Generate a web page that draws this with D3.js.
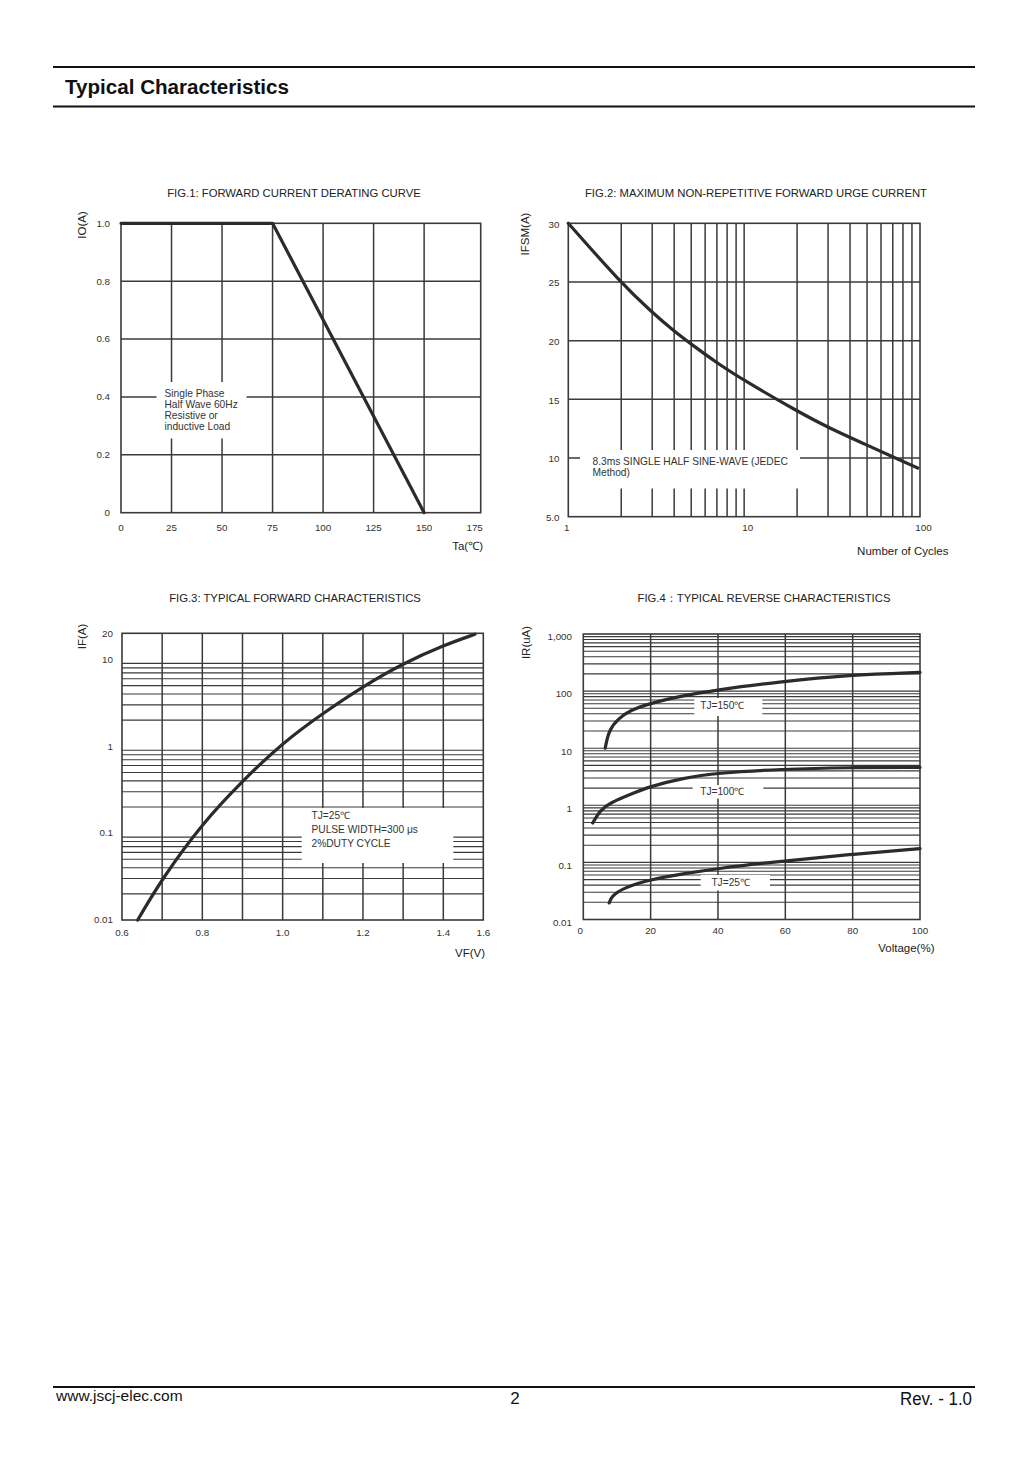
<!DOCTYPE html>
<html>
<head>
<meta charset="utf-8">
<script src="https://cdn.jsdelivr.net/npm/d3@7"></script>
<style>
  body { margin: 0; background: #fff; }
  svg text { font-family: "Liberation Sans", Arial, sans-serif; fill: #333; }
</style>
</head>
<body>
<svg width="1030" height="1458"></svg>
<script>
// FIG.1 forward current derating
let fig1Temp = [0, 75, 150],
    fig1Current = [1.0, 1.0, 0],
    fig1XTicks = [0, 25, 50, 75, 100, 125, 150, 175],
    fig1YTicks = [0, 0.2, 0.4, 0.6, 0.8, 1.0],
    fig1YLabels = ["0", "0.2", "0.4", "0.6", "0.8", "1.0"];

// FIG.2 surge current vs cycles
let fig2Cycles = [1, 2, 3, 4, 5, 7, 10, 20, 30, 50, 70, 97],
    fig2Ifsm = [30, 24.9, 22.4, 20.8, 19.7, 18.1, 16.6, 14.0, 12.6, 11.1, 10.1, 9.15],
    fig2XTicks = [1, 10, 100],
    fig2YTicks = [5, 10, 15, 20, 25, 30],
    fig2YLabels = ["5.0", "10", "15", "20", "25", "30"];

// FIG.3 forward characteristics
let fig3Vf = [0.639, 0.7, 0.8, 0.9, 1.0, 1.1, 1.2, 1.3, 1.4, 1.558],
    fig3If = [0.01, 0.03, 0.13, 0.40, 1.1, 2.4, 4.9, 9.0, 14.5, 19.5],
    fig3XTicks = [0.6, 0.8, 1.0, 1.2, 1.4, 1.6],
    fig3XLabels = ["0.6", "0.8", "1.0", "1.2", "1.4", "1.6"],
    fig3YTicks = [0.01, 0.1, 1, 10, 20],
    fig3YLabels = ["0.01", "0.1", "1", "10", "20"];

// FIG.4 reverse characteristics
let fig4Volt150 = [6.5, 7.6, 10.4, 13.9, 19.8, 28.7, 39.4, 58.9, 78.7, 100],
    fig4Ir150 = [10, 21, 33, 46, 61, 81, 105, 147, 192, 213],
    fig4Volt100 = [2.8, 5.0, 7.9, 13.9, 19.8, 29.7, 39.4, 58.9, 78.7, 100],
    fig4Ir100 = [0.49, 0.82, 1.1, 1.55, 2.14, 3.0, 3.66, 4.3, 4.6, 4.6],
    fig4Volt25 = [7.7, 8.4, 11.9, 19.8, 29.7, 39.4, 58.9, 78.7, 100],
    fig4Ir25 = [0.0195, 0.0256, 0.0358, 0.05, 0.063, 0.078, 0.105, 0.137, 0.174],
    fig4XTicks = [0, 20, 40, 60, 80, 100],
    fig4YTicks = [0.01, 0.1, 1, 10, 100, 1000],
    fig4YLabels = ["0.01", "0.1", "1", "10", "100", "1,000"];

let svg = d3.select("svg");
let gridColor = "#3a3a3a",
    curveColor = "#2b2b2b";

// page header / footer
svg.append("line").attr("x1", 53).attr("x2", 975).attr("y1", 67).attr("y2", 67)
    .attr("stroke", "#111").attr("stroke-width", 2);
svg.append("line").attr("x1", 53).attr("x2", 975).attr("y1", 106.5).attr("y2", 106.5)
    .attr("stroke", "#111").attr("stroke-width", 2);
svg.append("text").attr("x", 65).attr("y", 93.5)
    .attr("font-size", 20).attr("font-weight", "bold").style("fill", "#111")
    .attr("textLength", 224).attr("lengthAdjust", "spacingAndGlyphs")
    .text("Typical Characteristics");

svg.append("line").attr("x1", 53).attr("x2", 975).attr("y1", 1387).attr("y2", 1387)
    .attr("stroke", "#111").attr("stroke-width", 2);
svg.append("text").attr("x", 56).attr("y", 1401).attr("font-size", 15.5).style("fill", "#111")
    .text("www.jscj-elec.com");
svg.append("text").attr("x", 515).attr("y", 1404).attr("font-size", 17).style("fill", "#111")
    .attr("text-anchor", "middle").text("2");
svg.append("text").attr("x", 972).attr("y", 1405).attr("font-size", 18).style("fill", "#111")
    .attr("text-anchor", "end").attr("textLength", 72).attr("lengthAdjust", "spacingAndGlyphs")
    .text("Rev. - 1.0");

// helpers
function vLines(g, x, y, vals, w) {
  g.selectAll(null).data(vals).enter().append("line")
      .attr("x1", x).attr("x2", x)
      .attr("y1", y.range()[0]).attr("y2", y.range()[y.range().length - 1])
      .attr("stroke", gridColor).attr("stroke-width", w);
}

function hLines(g, x, y, vals, w) {
  g.selectAll(null).data(vals).enter().append("line")
      .attr("y1", y).attr("y2", y)
      .attr("x1", x.range()[0]).attr("x2", x.range()[x.range().length - 1])
      .attr("stroke", gridColor).attr("stroke-width", w);
}

function border(g, x, y) {
  let xr = x.range(), yr = y.range();
  g.append("rect")
      .attr("x", xr[0]).attr("y", yr[yr.length - 1])
      .attr("width", xr[xr.length - 1] - xr[0]).attr("height", yr[0] - yr[yr.length - 1])
      .attr("fill", "none").attr("stroke", gridColor).attr("stroke-width", 1.6);
}

function note(g, x0, y0, x1, y1, lines, tx, ty, dy, anchor) {
  g.append("rect").attr("x", x0).attr("y", y0)
      .attr("width", x1 - x0).attr("height", y1 - y0).attr("fill", "#fff");
  g.selectAll(null).data(lines).enter().append("text")
      .attr("x", tx).attr("y", function(d, i) { return ty + i * dy; })
      .attr("font-size", 10.2).attr("text-anchor", anchor || "start")
      .text(function(d) { return d; });
}

function curve(g, x, y, xs, ys, kind) {
  let line = d3.line()
      .curve(kind || d3.curveBasis)
      .x(function(d) { return x(d[0]); })
      .y(function(d) { return y(d[1]); });
  g.append("path")
      .attr("d", line(d3.zip(xs, ys)))
      .attr("fill", "none").attr("stroke", curveColor)
      .attr("stroke-width", 3.2).attr("stroke-linecap", "round").attr("stroke-linejoin", "round");
}

function title(text, cx, cy) {
  svg.append("text").attr("x", cx).attr("y", cy).attr("font-size", 11.3)
      .attr("text-anchor", "middle").style("fill", "#222").text(text);
}

function xLabels(g, x, ticks, labels, ty) {
  g.selectAll(null).data(ticks).enter().append("text")
      .attr("x", x).attr("y", ty).attr("font-size", 9.8).attr("text-anchor", "middle")
      .text(function(d, i) { return labels ? labels[i] : d; });
}

function yLabels(g, y, ticks, labels, tx, dy) {
  g.selectAll(null).data(ticks).enter().append("text")
      .attr("x", tx).attr("y", function(d) { return y(d) + (dy || 0); })
      .attr("dy", "0.34em").attr("font-size", 9.8).attr("text-anchor", "end")
      .text(function(d, i) { return labels[i]; });
}

function axisTitles(g, xt, xx, xy, yt, yx, yy) {
  g.append("text").attr("x", xx).attr("y", xy).attr("font-size", 11.5)
      .attr("text-anchor", "end").style("fill", "#222").text(xt);
  g.append("text").attr("transform", "translate(" + yx + "," + yy + ") rotate(-90)")
      .attr("dy", "0.35em").attr("font-size", 11.5).attr("text-anchor", "middle")
      .style("fill", "#222").text(yt);
}

// ---- FIG.1 ----
let g1 = svg.append("g");
let x1 = d3.scaleLinear().domain([0, 178]).range([121, 480.7]),
    y1 = d3.scaleLinear().domain([0, 1.0]).range([512.7, 223.3]);
title("FIG.1: FORWARD CURRENT  DERATING CURVE", 294, 197);
vLines(g1, x1, y1, [25, 50, 75, 100, 125, 150], 1.5);
hLines(g1, x1, y1, [0.2, 0.4, 0.6, 0.8], 1.5);
note(g1, 156.5, 382, 246.5, 438.5,
    ["Single Phase", "Half Wave 60Hz", "Resistive or", "inductive Load"], 164.5, 397, 11);
border(g1, x1, y1);
curve(g1, x1, y1, fig1Temp, fig1Current, d3.curveLinear);
xLabels(g1, x1, fig1XTicks, null, 531);
yLabels(g1, y1, fig1YTicks, fig1YLabels, 110);
axisTitles(g1, "Ta(\u2103)", 483, 550, "IO(A)", 81.5, 225);

// ---- FIG.2 ----
let g2 = svg.append("g");
let x2 = d3.scaleLog().domain([1, 100]).range([568.3, 920]),
    y2 = d3.scaleLinear().domain([5, 30]).range([516.7, 223.3]);
title("FIG.2: MAXIMUM NON-REPETITIVE FORWARD URGE CURRENT", 756, 197);
vLines(g2, x2, y2, d3.range(2, 10).concat(d3.range(10, 100, 10)), 1.5);
hLines(g2, x2, y2, [10, 15, 20, 25], 1.5);
note(g2, 580, 450, 800, 488.5,
    ["8.3ms SINGLE HALF SINE-WAVE (JEDEC", "Method)"], 592.5, 464.5, 11.5);
border(g2, x2, y2);
curve(g2, x2, y2, fig2Cycles, fig2Ifsm);
xLabels(g2, function(d) { return x2(d) + (d === 1 ? -1.5 : 3.5); }, fig2XTicks, null, 531);
yLabels(g2, y2, fig2YTicks, fig2YLabels, 559.5, 1);
axisTitles(g2, "Number of Cycles", 948.5, 555, "IFSM(A)", 525, 234);

// ---- FIG.3 ----
let g3 = svg.append("g");
let x3 = d3.scaleLinear().domain([0.6, 1.4, 1.6]).range([122, 443.3, 483.3]),
    y3 = d3.scaleLog().domain([0.01, 20]).range([920, 633.3]);
title("FIG.3: TYPICAL FORWARD CHARACTERISTICS", 295, 601.5);
vLines(g3, x3, y3, [0.7, 0.8, 0.9, 1.0, 1.1, 1.2, 1.3, 1.4], 1.5);
hLines(g3, x3, y3, [0.01, 0.1, 1].reduce(function(a, d) {
  return a.concat(d3.range(2, 10).map(function(k) { return k * d; }));
}, []), 1.1);
note(g3, 301.7, 808, 453.3, 863,
    ["TJ=25\u2103", "PULSE WIDTH=300 \u03bcs", "2%DUTY CYCLE"], 311.5, 819, 14.2);
border(g3, x3, y3);
curve(g3, x3, y3, fig3Vf, fig3If);
xLabels(g3, x3, fig3XTicks, fig3XLabels, 936);
yLabels(g3, y3, fig3YTicks, fig3YLabels, 113);
axisTitles(g3, "VF(V)", 485, 956.5, "IF(A)", 81.5, 636.5);

// ---- FIG.4 ----
let g4 = svg.append("g");
let x4 = d3.scaleLinear().domain([0, 100]).range([583.3, 920]),
    y4 = d3.scaleLog().domain([0.01, 1000]).range([919.5, 634]);
title("FIG.4\uff1aTYPICAL REVERSE CHARACTERISTICS", 764, 601.5);
vLines(g4, x4, y4, [20, 40, 60, 80], 1.5);
hLines(g4, x4, y4, [0.01, 0.1, 1, 10, 100].reduce(function(a, d) {
  return a.concat(d3.range(1, 10).map(function(k) { return k * d; }));
}, []).slice(1), 1.1);
note(g4, 694.3, 698, 762.3, 716, ["TJ=150\u2103"], 722.3, 708.5, 0, "middle");
note(g4, 692.7, 785, 763.3, 798.5, ["TJ=100\u2103"], 722.3, 795, 0, "middle");
note(g4, 700.7, 875, 770, 890.5, ["TJ=25\u2103"], 730.7, 886, 0, "middle");
border(g4, x4, y4);
curve(g4, x4, y4, fig4Volt150, fig4Ir150);
curve(g4, x4, y4, fig4Volt100, fig4Ir100);
curve(g4, x4, y4, fig4Volt25, fig4Ir25);
xLabels(g4, function(d) { return x4(d) - (d === 0 ? 3 : 0); }, fig4XTicks, null, 933.5);
yLabels(g4, y4, fig4YTicks, fig4YLabels, 572, 3);
axisTitles(g4, "Voltage(%)", 934.5, 951.5, "IR(uA)", 526, 642.5);
</script>
</body>
</html>
